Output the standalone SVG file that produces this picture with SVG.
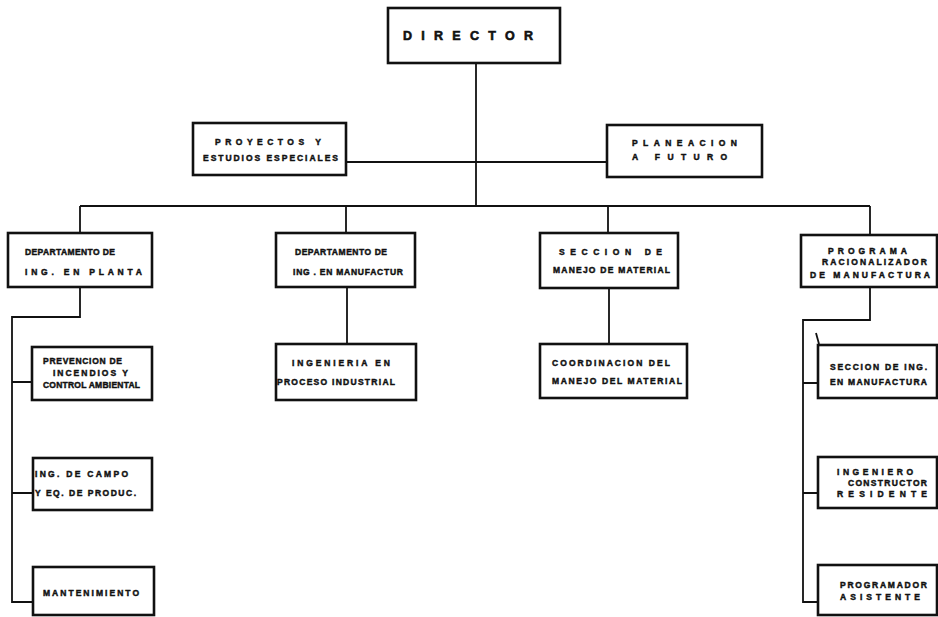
<svg xmlns="http://www.w3.org/2000/svg" width="938" height="617" viewBox="0 0 938 617">
<style>
.box{fill:#fff;stroke:#111;stroke-width:2.6}
.ln{fill:none;stroke:#111;stroke-width:1.8}
.t{font-family:"Liberation Sans",Arial,sans-serif;font-weight:bold;font-size:8.5px;fill:#111;stroke:#111;stroke-width:0.45}
.big{font-family:"Liberation Sans",Arial,sans-serif;font-weight:bold;font-size:12.5px;fill:#111;stroke:#111;stroke-width:0.6}
</style>
<rect width="938" height="617" fill="#fff"/>
<g id="connectors">
<path class="ln" d="M476,63 V206"/>
<path class="ln" d="M346,162 H607"/>
<path class="ln" d="M80,206 H870"/>
<path class="ln" d="M80,206 V233 M346,206 V233 M608,206 V233 M870,206 V235"/>
<path class="ln" d="M80,287 V317 H12 V602 H33 M12,382 H32 M12,493 H33"/>
<path class="ln" d="M347,287 V344"/>
<path class="ln" d="M609,288 V344"/>
<path class="ln" d="M870,287 V320 H803 V602 H818 M803,383 H818 M803,493 H818"/>
<path class="ln" d="M816,333 L819,344" stroke-width="1.2"/>
</g>
<g id="director">
<rect class="box" x="388" y="8" width="172" height="55"/>
<text class="big" x="403" y="40" textLength="130" lengthAdjust="spacing">DIRECTOR</text>
</g>
<g id="proyectos">
<rect class="box" x="193" y="123" width="153" height="52"/>
<text class="t" x="215" y="145" textLength="106" lengthAdjust="spacing">PROYECTOS Y</text>
<text class="t" x="203" y="161" textLength="135" lengthAdjust="spacing">ESTUDIOS ESPECIALES</text>
</g>
<g id="planeacion">
<rect class="box" x="607" y="125" width="155" height="52"/>
<text class="t" x="632" y="146" textLength="105" lengthAdjust="spacing">PLANEACION</text>
<text class="t" x="632" y="160" textLength="95" lengthAdjust="spacing">A FUTURO</text>
</g>
<g id="dept-planta">
<rect class="box" x="8" y="233" width="144" height="54"/>
<text class="t" x="25" y="255" textLength="90" lengthAdjust="spacing">DEPARTAMENTO DE</text>
<text class="t" x="25" y="275" textLength="117" lengthAdjust="spacing">ING. EN PLANTA</text>
</g>
<g id="dept-manufactura">
<rect class="box" x="276" y="233" width="139" height="54"/>
<text class="t" x="295" y="255" textLength="92" lengthAdjust="spacing">DEPARTAMENTO DE</text>
<text class="t" x="293" y="275" textLength="110" lengthAdjust="spacing">ING . EN MANUFACTUR</text>
</g>
<g id="seccion-manejo">
<rect class="box" x="540" y="233" width="138" height="55"/>
<text class="t" x="559" y="255" textLength="103" lengthAdjust="spacing">SECCION DE</text>
<text class="t" x="553" y="273" textLength="117" lengthAdjust="spacing">MANEJO DE MATERIAL</text>
</g>
<g id="programa">
<rect class="box" x="801" y="235" width="136" height="52"/>
<text class="t" x="828" y="254" textLength="79" lengthAdjust="spacing">PROGRAMA</text>
<text class="t" x="822" y="265" textLength="105" lengthAdjust="spacing">RACIONALIZADOR</text>
<text class="t" x="810" y="278" textLength="120" lengthAdjust="spacing">DE MANUFACTURA</text>
</g>
<g id="prevencion">
<rect class="box" x="32" y="347" width="120" height="53"/>
<text class="t" x="43" y="364" textLength="79" lengthAdjust="spacing">PREVENCION DE</text>
<text class="t" x="53" y="376" textLength="75" lengthAdjust="spacing">INCENDIOS Y</text>
<text class="t" x="43" y="388" textLength="97" lengthAdjust="spacing">CONTROL AMBIENTAL</text>
</g>
<g id="ing-campo">
<rect class="box" x="33" y="458" width="119" height="52"/>
<text class="t" x="35" y="477" textLength="93" lengthAdjust="spacing">ING. DE CAMPO</text>
<text class="t" x="35" y="496" textLength="101" lengthAdjust="spacing">Y EQ. DE PRODUC.</text>
</g>
<g id="mantenimiento">
<rect class="box" x="33" y="567" width="121" height="48"/>
<text class="t" x="43" y="596" textLength="96" lengthAdjust="spacing">MANTENIMIENTO</text>
</g>
<g id="ingenieria-proceso">
<rect class="box" x="276" y="344" width="140" height="56"/>
<text class="t" x="292" y="366" textLength="98" lengthAdjust="spacing">INGENIERIA EN</text>
<text class="t" x="277" y="385" textLength="118" lengthAdjust="spacing">PROCESO INDUSTRIAL</text>
</g>
<g id="coordinacion">
<rect class="box" x="540" y="344" width="147" height="54"/>
<text class="t" x="552" y="366" textLength="118" lengthAdjust="spacing">COORDINACION DEL</text>
<text class="t" x="552" y="384" textLength="130" lengthAdjust="spacing">MANEJO DEL MATERIAL</text>
</g>
<g id="seccion-ing">
<rect class="box" x="818" y="345" width="119" height="53"/>
<text class="t" x="830" y="370" textLength="97" lengthAdjust="spacing">SECCION DE ING.</text>
<text class="t" x="830" y="385" textLength="97" lengthAdjust="spacing">EN MANUFACTURA</text>
</g>
<g id="ingeniero">
<rect class="box" x="818" y="457" width="119" height="51"/>
<text class="t" x="837" y="475" textLength="76" lengthAdjust="spacing">INGENIERO</text>
<text class="t" x="848" y="486" textLength="79" lengthAdjust="spacing">CONSTRUCTOR</text>
<text class="t" x="837" y="497" textLength="90" lengthAdjust="spacing">RESIDENTE</text>
</g>
<g id="programador">
<rect class="box" x="818" y="565" width="119" height="50"/>
<text class="t" x="840" y="588" textLength="87" lengthAdjust="spacing">PROGRAMADOR</text>
<text class="t" x="840" y="600" textLength="80" lengthAdjust="spacing">ASISTENTE</text>
</g>
</svg>
